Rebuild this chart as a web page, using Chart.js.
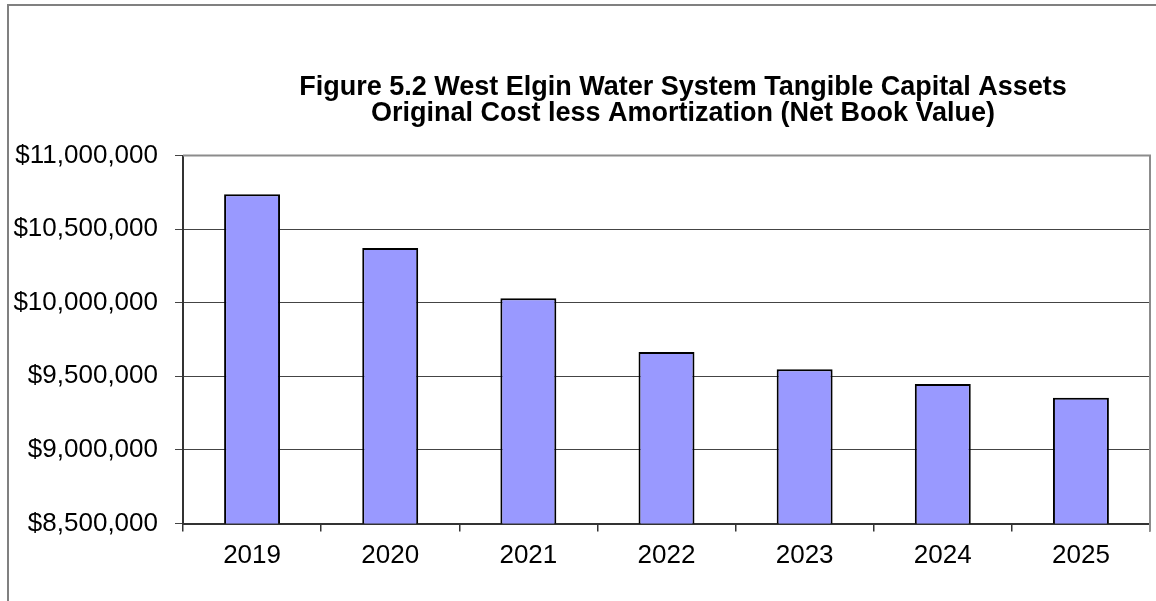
<!DOCTYPE html>
<html>
<head>
<meta charset="utf-8">
<script src="https://cdn.jsdelivr.net/npm/chart.js@4.4.1/dist/chart.umd.min.js"></script>
<style>
  html, body { margin: 0; padding: 0; background: #fff; overflow: hidden; }
  #wrap { width: 1156px; height: 601px; }
</style>
</head>
<body>
<div id="wrap"><canvas id="nbvChart" width="1156" height="601"></canvas></div>
<script>
// values
const years = ['2019', '2020', '2021', '2022', '2023', '2024', '2025'];
const netBookValue = [10736000, 10372000, 10030000, 9665000, 9548000, 9448000, 9355000];
const titleLines = [
    'Figure 5.2 West Elgin Water System Tangible Capital Assets',
    'Original Cost less Amortization (Net Book Value)'
];

const FONT = '"Liberation Sans", Arial, sans-serif';

// outer frame, plot border (top/right) and the two-line title
const decor = {
    id: 'decor',
    beforeDraw(chart) {
        const ctx = chart.ctx;
        ctx.save();
        ctx.strokeStyle = '#808080';
        ctx.lineWidth = 2;
        ctx.strokeRect(8, 5, 1300, 800);
        ctx.restore();
    },
    beforeDatasetsDraw(chart) {
        const { ctx, chartArea: a } = chart;
        ctx.save();
        ctx.strokeStyle = '#8c8c8c';
        ctx.lineWidth = 2;
        ctx.beginPath();
        ctx.moveTo(a.left, a.top);
        ctx.lineTo(a.right, a.top);
        ctx.lineTo(a.right, a.bottom + 8);
        ctx.stroke();
        ctx.restore();
    },
    afterDraw(chart) {
        const ctx = chart.ctx;
        ctx.save();
        ctx.fillStyle = '#000';
        ctx.font = 'bold 27px ' + FONT;
        ctx.textAlign = 'center';
        ctx.textBaseline = 'middle';
        ctx.fillText(titleLines[0], 683, 88);
        ctx.fillText(titleLines[1], 683, 114);
        ctx.restore();
    }
};

new Chart(document.getElementById('nbvChart'), {
    type: 'bar',
    data: {
        labels: years,
        datasets: [{
            label: 'Net Book Value',
            data: netBookValue,
            backgroundColor: '#9999ff',
            borderColor: '#000',
            borderWidth: 2,
            borderSkipped: false,
            categoryPercentage: 1,
            barPercentage: 0.405
        }]
    },
    options: {
        responsive: false,
        animation: false,
        layout: { padding: { left: 0, top: 155.5, right: 6, bottom: 0 } },
        plugins: {
            legend: { display: false },
            tooltip: { enabled: false },
            title: { display: false }
        },
        scales: {
            x: {
                offset: true,
                grid: { offset: true, drawOnChartArea: false, tickLength: 8, color: '#333', lineWidth: 1.5 },
                border: { color: '#333', width: 2 },
                ticks: { color: '#000', font: { family: FONT, size: 26 }, padding: 9 },
                afterFit: (s) => { s.height = 77.5; }
            },
            y: {
                min: 8500000,
                max: 11000000,
                grid: { color: '#444', lineWidth: 1, tickLength: 8 },
                border: { color: '#333', width: 2 },
                ticks: {
                    stepSize: 500000,
                    color: '#000',
                    padding: 17,
                    font: { family: FONT, size: 26 },
                    callback: (v) => '$' + Number(v).toLocaleString('en-US')
                },
                afterFit: (s) => { s.width = 183; }
            }
        }
    },
    plugins: [decor]
});
</script>
</body>
</html>
